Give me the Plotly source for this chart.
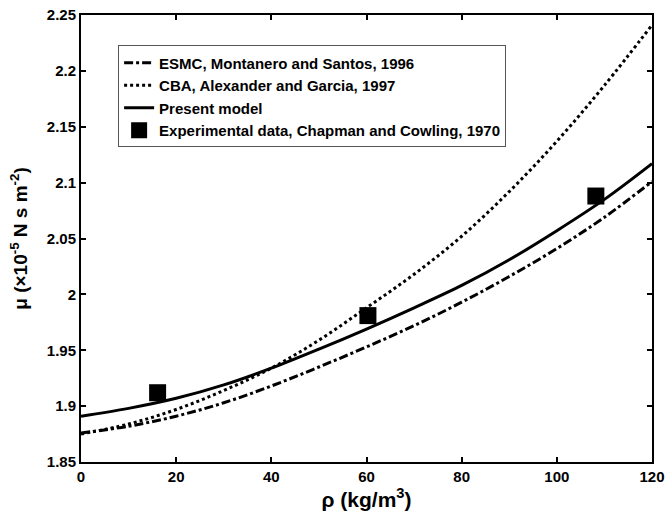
import plotly.graph_objects as go

rho = [0, 10, 20, 30, 40, 50, 60, 70, 80, 90, 100, 110, 120]
mu_esmc = [1.876, 1.882, 1.891, 1.903, 1.918, 1.935, 1.953, 1.972, 1.993, 2.016, 2.041, 2.069, 2.101]
mu_cba = [1.875, 1.884, 1.897, 1.914, 1.934, 1.959, 1.988, 2.018, 2.052, 2.092, 2.137, 2.187, 2.241]
mu_present = [1.891, 1.898, 1.907, 1.919, 1.934, 1.951, 1.969, 1.988, 2.008, 2.031, 2.057, 2.085, 2.117]

rho_exp = [16.1, 60.3, 108.2]
mu_exp = [1.912, 1.981, 2.088]

x_ticks = [0, 20, 40, 60, 80, 100, 120]
y_ticks = [1.85, 1.9, 1.95, 2.0, 2.05, 2.1, 2.15, 2.2, 2.25]
y_ticklabels = ["1.85", "1.9", "1.95", "2", "2.05", "2.1", "2.15", "2.2", "2.25"]

FONT = "Liberation Sans, Arial, sans-serif"

fig = go.Figure()
fig.add_trace(go.Scatter(x=rho, y=mu_esmc, mode="lines", name="<b>ESMC, Montanero and Santos, 1996</b>",
                         line=dict(color="black", width=3, dash="dashdot"), line_shape="spline"))
fig.add_trace(go.Scatter(x=rho, y=mu_cba, mode="lines", name="<b>CBA, Alexander and Garcia, 1997</b>",
                         line=dict(color="black", width=3, dash="dot"), line_shape="spline"))
fig.add_trace(go.Scatter(x=rho, y=mu_present, mode="lines", name="<b>Present model</b>",
                         line=dict(color="black", width=3), line_shape="spline"))
fig.add_trace(go.Scatter(x=rho_exp, y=mu_exp, mode="markers", name="<b>Experimental data, Chapman and Cowling, 1970</b>",
                         marker=dict(symbol="square", size=17, color="black")))

axis_common = dict(showline=True, linecolor="black", linewidth=2, mirror="ticks",
                   ticks="inside", ticklen=5, tickwidth=1.5, tickcolor="black",
                   showgrid=False, zeroline=False, automargin=False,
                   tickfont=dict(family=FONT, size=15, color="black"))

fig.update_xaxes(range=[0, 120], tickvals=x_ticks, ticktext=[f"<b>{v}</b>" for v in x_ticks],
                 title=dict(text="<b>ρ (kg/m<sup>3</sup>)</b>", font=dict(family=FONT, size=21, color="black"), standoff=6),
                 **axis_common)
fig.update_yaxes(range=[1.85, 2.25], tickvals=y_ticks, ticktext=[f"<b>{t}</b>" for t in y_ticklabels],
                 title=dict(text="<b>μ (×10<sup>-5</sup> N s m<sup>-2</sup>)</b>", font=dict(family=FONT, size=19, color="black"), standoff=14),
                 **axis_common)

fig.update_layout(
    width=665, height=521,
    margin=dict(l=81, r=13, t=15, b=59),
    paper_bgcolor="white", plot_bgcolor="white",
    showlegend=True,
    legend=dict(x=0.065, y=0.932, xanchor="left", yanchor="top",
                bgcolor="white", bordercolor="#555555", borderwidth=1,
                font=dict(family=FONT, size=15, color="black"),
                tracegroupgap=0, itemwidth=30),
)

fig.write_html("out.html")
